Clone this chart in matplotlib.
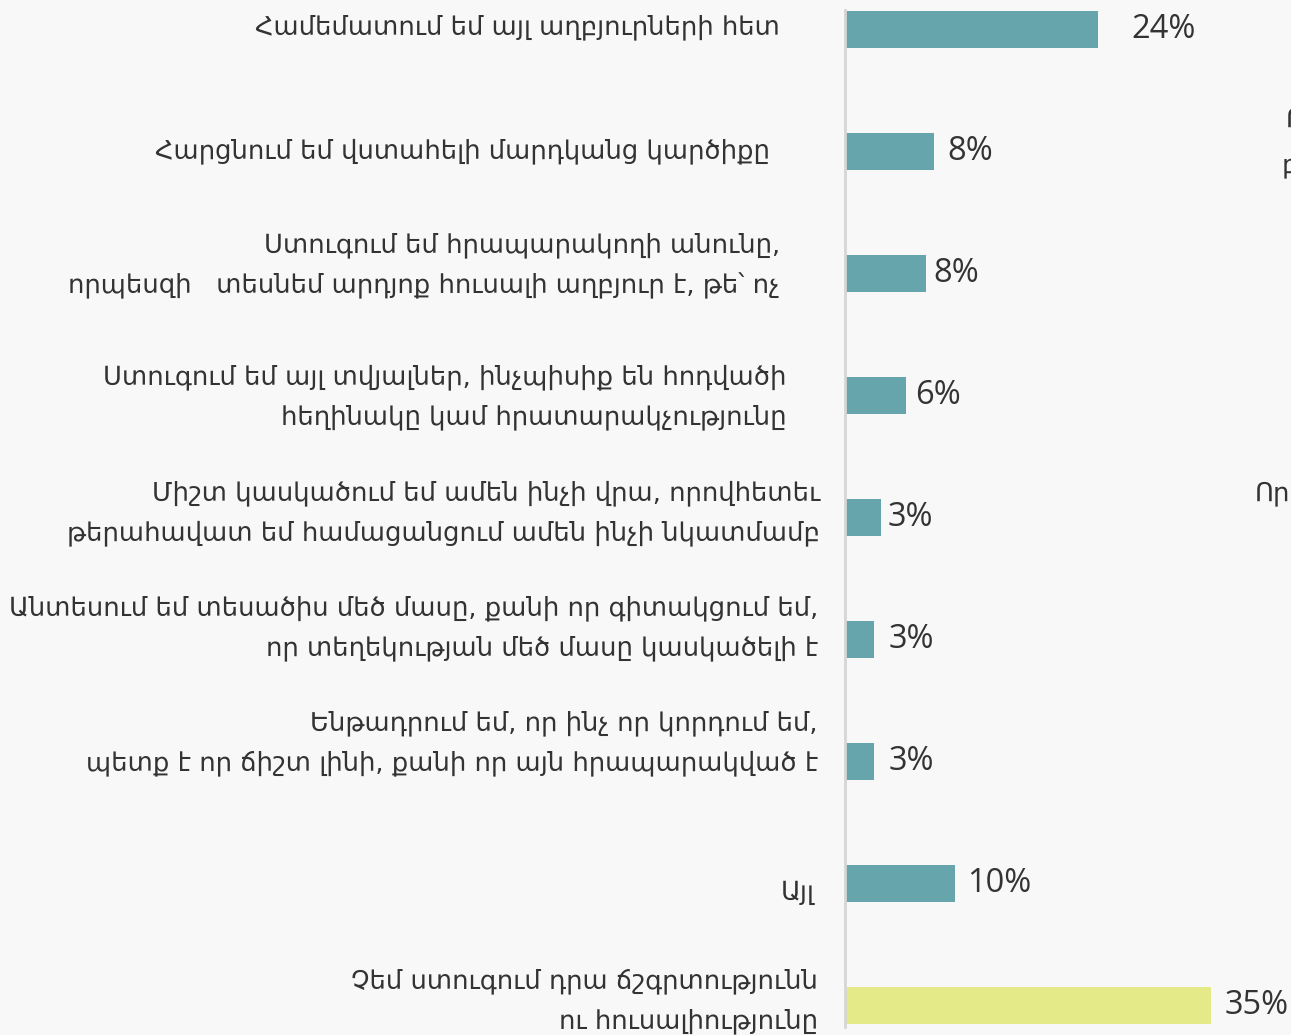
import matplotlib
matplotlib.use("Agg")
import matplotlib.pyplot as plt
from matplotlib import font_manager as fm

categories = [
    "Համեմատում եմ այլ աղբյուրների հետ",
    "Հարցնում եմ վստահելի մարդկանց կարծիքը",
    "Ստուգում եմ հրապարակողի անունը,\nորպեսզի   տեսնեմ արդյոք հուսալի աղբյուր է, թե՝ ոչ",
    "Ստուգում եմ այլ տվյալներ, ինչպիսիք են հոդվածի\nհեղինակը կամ հրատարակչությունը",
    "Միշտ կասկածում եմ ամեն ինչի վրա, որովհետեւ\nթերահավատ եմ համացանցում ամեն ինչի նկատմամբ",
    "Անտեսում եմ տեսածիս մեծ մասը, քանի որ գիտակցում եմ,\nոր տեղեկության մեծ մասը կասկածելի է",
    "Ենթադրում եմ, որ ինչ որ կորդում եմ,\nպետք է որ ճիշտ լինի, քանի որ այն հրապարակված է",
    "Այլ",
    "Չեմ ստուգում դրա ճշգրտությունն\nու հուսալիությունը",
]
values = [24.1, 8.5, 7.7, 5.8, 3.4, 2.8, 2.8, 10.5, 34.9]
value_labels = ["24%", "8%", "8%", "6%", "3%", "3%", "3%", "10%", "35%"]
highlight = [False] * 8 + [True]

W, H = 1291, 1035
fig = plt.figure(figsize=(W / 100, H / 100), dpi=100)
bg = "#F8F8F8"
fig.patch.set_facecolor(bg)

avail = {f.name for f in fm.fontManager.ttflist}
lab_fam = [f for f in ["DejaVu Sans Condensed", "DejaVu Sans"] if f in avail]
num_fam = [f for f in ["Open Sans", "DejaVu Sans"] if f in avail]

x0 = 845
pxper = 10.48
ax = fig.add_axes([x0 / W, 0, (W - x0) / W, 1])
ax.set_facecolor(bg)
ax.set_xlim(0, (W - x0) / pxper)
c0, step = 29, 122
ax.set_ylim((H - c0) / step, -c0 / step)

teal = "#67A5AD"
yellow = "#E4EA88"
ys = list(range(len(values)))
colors = [yellow if h else teal for h in highlight]
ax.barh(ys, values, height=37 / step, color=colors, zorder=2)

for s in ["top", "right", "bottom"]:
    ax.spines[s].set_visible(False)
ax.spines["left"].set_color("#D6D6D6")
ax.spines["left"].set_linewidth(2)
ax.spines["left"].set_bounds(-19 / step, 8 + 22 / step)
ax.set_xticks([])
ax.set_yticks([])

txt = "#333333"
# layout: right edge of label (px) and vertical offset (px) per label
lab_right = [780, 770, 780, 786, 820, 818, 818, 815, 818]
lab_dy = [-2, 0, -7, 2, -4, -11, -18, 10, -4]
for i, lab in enumerate(categories):
    fig.text(lab_right[i] / W, 1 - (c0 + i * step + lab_dy[i]) / H, lab,
             ha="right", va="center", fontsize=18.6, color=txt,
             family=lab_fam, linespacing=1.7)

# layout: gap (px) between bar end and value label
gaps = [34, 13, 8, 9, 7, 14, 14, 12, 14]
for i, (v, t) in enumerate(zip(values, value_labels)):
    ax.annotate(t, (v, i), xytext=(gaps[i] * 0.72, 0), textcoords="offset points",
                ha="left", va="center", fontsize=23.5, color=txt,
                family=num_fam, annotation_clip=False)

# fragments of neighbouring content cut off at the right edge (as in the reference)
fig.text(1286 / W, 1 - 120 / H, "Ո", ha="left", va="center", fontsize=18.6, color=txt, family=lab_fam)
fig.text(1282 / W, 1 - 165 / H, "բ", ha="left", va="center", fontsize=18.6, color=txt, family=lab_fam)
fig.text(1255 / W, 1 - 493 / H, "Որ", ha="left", va="center", fontsize=18.6, color=txt, family=lab_fam)

fig.savefig("out.png", dpi=100, facecolor=bg)
